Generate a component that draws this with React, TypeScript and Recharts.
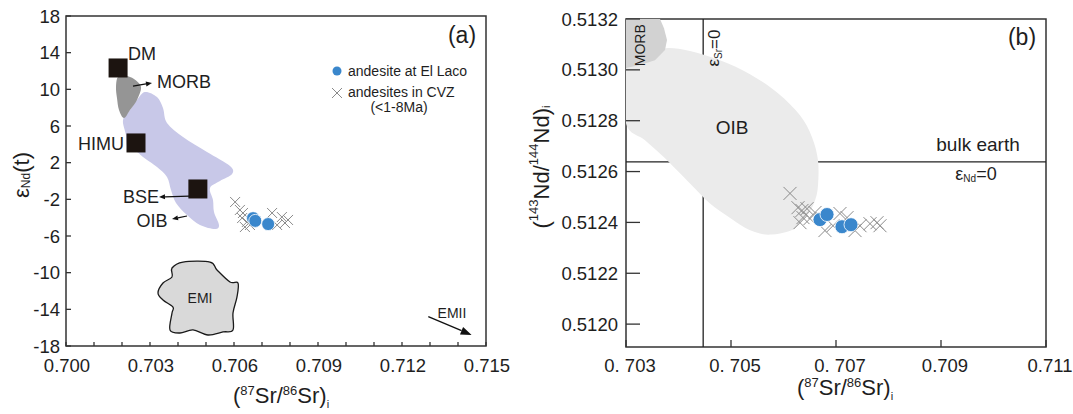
import React from 'react';
import { ScatterChart, Scatter, XAxis, YAxis, ReferenceArea, ReferenceLine } from 'recharts';

const FONT = '"Liberation Sans", Arial, Helvetica, sans-serif';
const INK = '#1e1e1e';
const FRAME = '#333333';
const BLUE = '#3a87cc';
const CROSS = '#8a8a8a';

// ---------------- panel (a): eNd(t) vs (87Sr/86Sr)i ----------------
const srTicksA = [0.700, 0.701, 0.702, 0.703, 0.704, 0.705, 0.706, 0.707, 0.708, 0.709, 0.710, 0.711, 0.712, 0.713, 0.714, 0.715];
const srTickLabelsA = ['0.700', '', '', '0.703', '', '', '0.706', '', '', '0.709', '', '', '0.712', '', '', '0.715'];
const endTicksA = [-18, -14, -10, -6, -2, 2, 6, 10, 14, 18];
const endTickLabelsA = ['-18', '-14', '-10', '-6', '-2', '2', '6', '10', '14', '18'];

const elLacoA = [
  { sr: 0.70668, end: -4.05 },
  { sr: 0.70676, end: -4.35 },
  { sr: 0.70722, end: -4.7 },
];
const cvzA = [
  { sr: 0.70604, end: -2.29 },
  { sr: 0.70621, end: -3.16 },
  { sr: 0.70632, end: -3.49 },
  { sr: 0.70629, end: -4.04 },
  { sr: 0.70646, end: -4.47 },
  { sr: 0.70657, end: -4.8 },
  { sr: 0.70639, end: -5.02 },
  { sr: 0.70736, end: -3.49 },
  { sr: 0.70754, end: -4.8 },
  { sr: 0.70771, end: -3.93 },
  { sr: 0.70782, end: -4.58 },
  { sr: 0.70793, end: -4.25 },
];
const endmembersA = [
  { sr: 0.70186, end: 12.33, name: 'DM' },
  { sr: 0.7025, end: 4.15, name: 'HIMU' },
  { sr: 0.70471, end: -0.87, name: 'BSE' },
];
const oibFieldA = [
  { sr: 0.702821, end: 9.71 }, { sr: 0.70325, end: 9.16 }, { sr: 0.703464, end: 7.96 },
  { sr: 0.703607, end: 6.33 }, { sr: 0.704179, end: 4.8 }, { sr: 0.705036, end: 3.16 },
  { sr: 0.705857, end: 1.64 }, { sr: 0.705929, end: 0.76 }, { sr: 0.7055, end: 0.0 },
  { sr: 0.705143, end: -0.76 }, { sr: 0.70525, end: -2.07 }, { sr: 0.705286, end: -3.38 },
  { sr: 0.705464, end: -4.8 }, { sr: 0.705321, end: -5.24 }, { sr: 0.704786, end: -4.8 },
  { sr: 0.704321, end: -3.71 }, { sr: 0.703929, end: -2.4 }, { sr: 0.70375, end: -0.98 },
  { sr: 0.703607, end: 0.44 }, { sr: 0.70325, end: 1.53 }, { sr: 0.70275, end: 2.62 },
  { sr: 0.702536, end: 3.16 }, { sr: 0.702214, end: 3.6 }, { sr: 0.702143, end: 5.02 },
  { sr: 0.702036, end: 6.65 }, { sr: 0.702286, end: 7.75 }, { sr: 0.702536, end: 8.84 },
];
const morbFieldA = [
  { sr: 0.701857, end: 11.35 }, { sr: 0.702143, end: 11.45 }, { sr: 0.702429, end: 11.13 },
  { sr: 0.702679, end: 10.25 }, { sr: 0.702536, end: 8.84 }, { sr: 0.702286, end: 7.75 },
  { sr: 0.702071, end: 6.87 }, { sr: 0.701893, end: 7.75 }, { sr: 0.701821, end: 9.05 },
  { sr: 0.701786, end: 10.25 },
];
const emiFieldA = [
  { sr: 0.703786, end: -9.49 }, { sr: 0.704179, end: -8.84 }, { sr: 0.705143, end: -8.84 },
  { sr: 0.705393, end: -9.71 }, { sr: 0.705857, end: -11.02 }, { sr: 0.706143, end: -11.13 },
  { sr: 0.706107, end: -12.65 }, { sr: 0.705964, end: -14.4 }, { sr: 0.705964, end: -16.25 },
  { sr: 0.705607, end: -16.47 }, { sr: 0.705071, end: -16.8 }, { sr: 0.704536, end: -16.25 },
  { sr: 0.704071, end: -16.58 }, { sr: 0.703714, end: -16.25 }, { sr: 0.703786, end: -14.4 },
  { sr: 0.703821, end: -13.75 }, { sr: 0.703464, end: -12.98 }, { sr: 0.703286, end: -12.22 },
  { sr: 0.703464, end: -11.13 }, { sr: 0.703786, end: -10.47 },
];
const labelsA = [
  { sr: 0.702714, end: 13.85, text: 'DM' },
  { sr: 0.704214, end: 10.8, text: 'MORB' },
  { sr: 0.70125, end: 4.04, text: 'HIMU' },
  { sr: 0.702679, end: -1.75, text: 'BSE' },
  { sr: 0.703071, end: -4.36, text: 'OIB' },
  { sr: 0.704786, end: -12.76, text: 'EMI' },
  { sr: 0.713786, end: -14.4, text: 'EMII' },
];
const arrowMorbA = [{ sr: 0.702393, end: 10.36 }, { sr: 0.703071, end: 10.69 }];
const arrowBseA = [{ sr: 0.704393, end: -1.64 }, { sr: 0.703321, end: -1.75 }];
const arrowOibA = [{ sr: 0.704321, end: -3.82 }, { sr: 0.703786, end: -4.15 }];
const arrowEmiiA = [{ sr: 0.71294, end: -14.8 }, { sr: 0.714488, end: -16.8 }];

// ---------------- panel (b): (143Nd/144Nd)i vs (87Sr/86Sr)i ----------------
const srTicksB = [0.703, 0.705, 0.707, 0.709, 0.711];
const srTickLabelsB = ['0. 703', '0. 705', '0. 707', '0.709', '0.711'];
const ndTicksB = [0.512, 0.5122, 0.5124, 0.5126, 0.5128, 0.513, 0.5132];
const ndTickLabelsB = ['0.5120', '0.5122', '0.5124', '0.5126', '0.5128', '0.5130', '0.5132'];
const SR_ZERO_B = 0.70447;
const ND_CHUR_B = 0.512638;

const elLacoB = [
  { sr: 0.706695, nd: 0.512411 },
  { sr: 0.706829, nd: 0.512431 },
  { sr: 0.707114, nd: 0.512383 },
  { sr: 0.707286, nd: 0.512391 },
];
const cvzB = [
  { sr: 0.706124, nd: 0.512514 }, { sr: 0.706276, nd: 0.512458 }, { sr: 0.706352, nd: 0.512447 },
  { sr: 0.706448, nd: 0.512454 }, { sr: 0.706371, nd: 0.512419 }, { sr: 0.706314, nd: 0.512399 },
  { sr: 0.706505, nd: 0.512415 }, { sr: 0.7066, nd: 0.512439 }, { sr: 0.70679, nd: 0.512368 },
  { sr: 0.706943, nd: 0.512387 }, { sr: 0.707076, nd: 0.512435 }, { sr: 0.70721, nd: 0.512419 },
  { sr: 0.707362, nd: 0.512368 }, { sr: 0.707457, nd: 0.512387 }, { sr: 0.707648, nd: 0.512395 },
  { sr: 0.707781, nd: 0.512399 }, { sr: 0.707838, nd: 0.512387 },
];
const oibFieldB = [
  { sr: 0.703, nd: 0.513007 }, { sr: 0.703267, nd: 0.51303 }, { sr: 0.703552, nd: 0.51307 },
  { sr: 0.7038, nd: 0.513086 }, { sr: 0.704219, nd: 0.513074 }, { sr: 0.70479, nd: 0.513038 },
  { sr: 0.705362, nd: 0.512983 }, { sr: 0.705895, nd: 0.512908 }, { sr: 0.706314, nd: 0.512821 },
  { sr: 0.706543, nd: 0.512735 }, { sr: 0.706657, nd: 0.512644 }, { sr: 0.706657, nd: 0.512545 },
  { sr: 0.7066, nd: 0.512486 }, { sr: 0.706467, nd: 0.512431 }, { sr: 0.706276, nd: 0.512387 },
  { sr: 0.706086, nd: 0.512364 }, { sr: 0.705781, nd: 0.512352 }, { sr: 0.705552, nd: 0.512356 },
  { sr: 0.705267, nd: 0.512379 }, { sr: 0.704943, nd: 0.512423 }, { sr: 0.7046, nd: 0.512474 },
  { sr: 0.704219, nd: 0.512553 }, { sr: 0.703743, nd: 0.512652 }, { sr: 0.703362, nd: 0.512723 },
  { sr: 0.703, nd: 0.51279 },
];
const morbFieldB = [
  { sr: 0.703, nd: 0.5132 }, { sr: 0.703648, nd: 0.5132 }, { sr: 0.703724, nd: 0.513164 },
  { sr: 0.703781, nd: 0.513117 }, { sr: 0.703743, nd: 0.513078 }, { sr: 0.703552, nd: 0.513038 },
  { sr: 0.703267, nd: 0.513019 }, { sr: 0.703, nd: 0.513007 },
];
const labelsB = [
  { sr: 0.703267, nd: 0.513097, text: 'MORB' },
  { sr: 0.704676, nd: 0.513086, text: 'eSr' },
  { sr: 0.705019, nd: 0.512774, text: 'OIB' },
  { sr: 0.709705, nd: 0.512707, text: 'bulk earth' },
  { sr: 0.709667, nd: 0.512592, text: 'eNd' },
];

// ---------------- drawing helpers ----------------
const nothing = () => <g />;

const closedSmooth = (pts: any[]) => {
  const n = pts.length;
  let d = `M${pts[0].x},${pts[0].y}`;
  for (let i = 0; i < n; i++) {
    const p0 = pts[(i - 1 + n) % n], p1 = pts[i], p2 = pts[(i + 1) % n], p3 = pts[(i + 2) % n];
    const c1x = p1.x + (p2.x - p0.x) / 6, c1y = p1.y + (p2.y - p0.y) / 6;
    const c2x = p2.x - (p3.x - p1.x) / 6, c2y = p2.y - (p3.y - p1.y) / 6;
    d += ` C${c1x},${c1y} ${c2x},${c2y} ${p2.x},${p2.y}`;
  }
  return d + ' Z';
};

const smoothShape = (fill: string, stroke: string, sw: number) => (props: any) => (
  <path d={closedSmooth(props.points)} fill={fill} stroke={stroke} strokeWidth={sw} />
);
const polyShape = (fill: string) => (props: any) => (
  <polygon points={props.points.map((p: any) => `${p.x},${p.y}`).join(' ')} fill={fill} stroke="none" />
);

const arrowShape = (headLen: number, headW: number, sw: number) => (props: any) => {
  const [a, b] = props.points;
  const dx = b.x - a.x, dy = b.y - a.y;
  const L = Math.hypot(dx, dy) || 1;
  const ux = dx / L, uy = dy / L;
  const bx = b.x - ux * headLen, by = b.y - uy * headLen;
  const px = (-uy * headW) / 2, py = (ux * headW) / 2;
  return (
    <g>
      <line x1={a.x} y1={a.y} x2={bx} y2={by} stroke="#111" strokeWidth={sw} />
      <polygon points={`${b.x},${b.y} ${bx + px},${by + py} ${bx - px},${by - py}`} fill="#111" />
    </g>
  );
};

const crossShape = (arm: number) => (p: any) => (
  <g stroke={CROSS} strokeWidth={1}>
    <line x1={p.cx - arm} y1={p.cy - arm} x2={p.cx + arm} y2={p.cy + arm} />
    <line x1={p.cx - arm} y1={p.cy + arm} x2={p.cx + arm} y2={p.cy - arm} />
  </g>
);
const dotShape = (r: number) => (p: any) => (
  <circle cx={p.cx} cy={p.cy} r={r} fill={BLUE} stroke="#ffffff" strokeWidth={0.8} />
);
const squareShape = (p: any) => <rect x={p.cx - 9.5} y={p.cy - 9.5} width={19} height={19} fill="#1c1410" />;

const labelA = (p: any) => {
  const t = p.payload.text;
  const fs = t === 'EMI' || t === 'EMII' ? 14 : 18;
  return (
    <text x={p.cx} y={p.cy} textAnchor="middle" dominantBaseline="central" fontSize={fs} fontFamily={FONT} fill={INK}>
      {t}
    </text>
  );
};

const labelB = (p: any) => {
  const t = p.payload.text;
  const { cx, cy } = p;
  if (t === 'MORB') {
    return (
      <text x={cx} y={cy} transform={`rotate(-90 ${cx} ${cy})`} textAnchor="middle" dominantBaseline="central" fontSize={14} fontFamily={FONT} fill={INK}>
        MORB
      </text>
    );
  }
  if (t === 'eSr') {
    return (
      <text x={cx} y={cy} transform={`rotate(-90 ${cx} ${cy})`} textAnchor="middle" dominantBaseline="central" fontSize={17} fontFamily={FONT} fill={INK}>
        ε<tspan fontSize={10} dy={4}>Sr</tspan><tspan dy={-4}>=0</tspan>
      </text>
    );
  }
  if (t === 'eNd') {
    return (
      <text x={cx} y={cy} textAnchor="middle" dominantBaseline="central" fontSize={18} fontFamily={FONT} fill={INK}>
        ε<tspan fontSize={10} dy={4}>Nd</tspan><tspan dy={-4}>=0</tspan>
      </text>
    );
  }
  return (
    <text x={cx} y={cy} textAnchor="middle" dominantBaseline="central" fontSize={19} fontFamily={FONT} fill={INK}>
      {t}
    </text>
  );
};

const findLabel = (ticks: number[], labels: string[], v: number) => {
  const i = ticks.findIndex((t) => Math.abs(t - v) < 1e-9);
  return i >= 0 ? labels[i] : '';
};

const makeYTick = (ticks: number[], labels: string[], len: number, gap: number, fs: number) => (props: any) => {
  const { x, y, payload } = props;
  return (
    <g>
      <line x1={x} x2={x + len} y1={y} y2={y} stroke={FRAME} strokeWidth={1.3} />
      <text x={x - gap} y={y} textAnchor="end" dominantBaseline="central" fontSize={fs} fontFamily={FONT} fill={INK}>
        {findLabel(ticks, labels, payload.value)}
      </text>
    </g>
  );
};
const makeXTick = (ticks: number[], labels: string[], len: number, gap: number, fs: number, dx: number) => (props: any) => {
  const { x, y, payload } = props;
  return (
    <g>
      <line x1={x} x2={x} y1={y} y2={y - len} stroke={FRAME} strokeWidth={1.3} />
      <text x={x + dx} y={y + gap} textAnchor="middle" dominantBaseline="central" fontSize={fs} fontFamily={FONT} fill={INK}>
        {findLabel(ticks, labels, payload.value)}
      </text>
    </g>
  );
};

const xTickA = makeXTick(srTicksA, srTickLabelsA, 4, 19, 18.5, 1);
const yTickA = makeYTick(endTicksA, endTickLabelsA, 5, 6, 18.5);
const xTickB = makeXTick(srTicksB, srTickLabelsB, 7, 18, 18.5, 4);
const yTickB = makeYTick(ndTicksB, ndTickLabelsB, 14, 8, 18.5);

const PanelA = () => (
  <ScatterChart width={530} height={414} margin={{ top: 16, right: 44, bottom: 0, left: 0 }}>
    <XAxis type="number" dataKey="sr" domain={[0.7, 0.715]} ticks={srTicksA} interval={0} allowDataOverflow
      axisLine={false} tickLine={false} tickSize={0} tickMargin={0} height={68} tick={xTickA} />
    <YAxis type="number" dataKey="end" domain={[-18, 18]} ticks={endTicksA} interval={0} allowDataOverflow
      axisLine={false} tickLine={false} tickSize={0} tickMargin={0} width={66} tick={yTickA} />
    <Scatter data={oibFieldA} line={smoothShape('#c8c8e8', 'none', 0)} shape={nothing} isAnimationActive={false} />
    <Scatter data={morbFieldA} line={smoothShape('#959595', 'none', 0)} shape={nothing} isAnimationActive={false} />
    <Scatter data={emiFieldA} line={smoothShape('#d9d9d9', '#1a1a1a', 1.3)} shape={nothing} isAnimationActive={false} />
    <Scatter data={endmembersA} shape={squareShape} isAnimationActive={false} />
    <Scatter data={arrowMorbA} line={arrowShape(6, 5, 1.2)} shape={nothing} isAnimationActive={false} />
    <Scatter data={arrowBseA} line={arrowShape(6, 5, 1.2)} shape={nothing} isAnimationActive={false} />
    <Scatter data={arrowOibA} line={arrowShape(6, 5, 1.2)} shape={nothing} isAnimationActive={false} />
    <Scatter data={arrowEmiiA} line={arrowShape(11, 8, 1.4)} shape={nothing} isAnimationActive={false} />
    <Scatter data={cvzA} shape={crossShape(5)} isAnimationActive={false} />
    <Scatter data={elLacoA} shape={dotShape(6.5)} isAnimationActive={false} />
    <Scatter data={labelsA} shape={labelA} isAnimationActive={false} />
    <ReferenceArea x1={0.7} x2={0.715} y1={-18} y2={18} fill="none" fillOpacity={0} stroke={FRAME} strokeWidth={1.5} ifOverflow="visible" />
  </ScatterChart>
);

const PanelB = () => (
  <ScatterChart width={543} height={414} margin={{ top: 19, right: 27, bottom: 0, left: 0 }}>
    <XAxis type="number" dataKey="sr" domain={[0.703, 0.711]} ticks={srTicksB} interval={0} allowDataOverflow
      axisLine={false} tickLine={false} tickSize={0} tickMargin={0} height={67} tick={xTickB} />
    <YAxis type="number" dataKey="nd" domain={[0.51191, 0.5132]} ticks={ndTicksB} interval={0} allowDataOverflow
      axisLine={false} tickLine={false} tickSize={0} tickMargin={0} width={96} tick={yTickB} />
    <Scatter data={oibFieldB} line={smoothShape('#ebebeb', 'none', 0)} shape={nothing} isAnimationActive={false} />
    <Scatter data={morbFieldB} line={polyShape('#d2d2d2')} shape={nothing} isAnimationActive={false} />
    <ReferenceLine x={SR_ZERO_B} stroke="#222" strokeWidth={1.3} ifOverflow="visible" />
    <ReferenceLine y={ND_CHUR_B} stroke="#222" strokeWidth={1.3} ifOverflow="visible" />
    <Scatter data={cvzB} shape={crossShape(6.5)} isAnimationActive={false} />
    <Scatter data={elLacoB} shape={dotShape(7)} isAnimationActive={false} />
    <Scatter data={labelsB} shape={labelB} isAnimationActive={false} />
    <ReferenceArea x1={0.703} x2={0.711} y1={0.51191} y2={0.5132} fill="none" fillOpacity={0} stroke={FRAME} strokeWidth={1.5} ifOverflow="visible" />
  </ScatterChart>
);

const SrTitle = ({ x, y }: { x: number; y: number }) => (
  <text x={x} y={y} textAnchor="middle" fontSize={22} fontFamily={FONT} fill={INK}>
    (<tspan fontSize={13} dy={-8}>87</tspan><tspan dy={8}>Sr/</tspan><tspan fontSize={13} dy={-8}>86</tspan><tspan dy={8}>Sr)</tspan><tspan fontSize={11} dy={5}>i</tspan>
  </text>
);

export default function App() {
  return (
    <div style={{ position: 'absolute', left: 0, top: 0, width: 1073, height: 414, background: '#ffffff', overflow: 'hidden' }}>
      <div style={{ position: 'absolute', left: 0, top: 0 }}>
        <PanelA />
      </div>
      <div style={{ position: 'absolute', left: 530, top: 0 }}>
        <PanelB />
      </div>
      <svg width={1073} height={414} style={{ position: 'absolute', left: 0, top: 0, pointerEvents: 'none' }}>
        {/* panel letters */}
        <text x={462} y={35} textAnchor="middle" dominantBaseline="central" fontSize={23} fontFamily={FONT} fill={INK}>(a)</text>
        <text x={1022} y={37} textAnchor="middle" dominantBaseline="central" fontSize={23} fontFamily={FONT} fill={INK}>(b)</text>
        {/* legend (a) */}
        <circle cx={337} cy={71} r={4.5} fill={BLUE} />
        <text x={348} y={75.5} fontSize={14} fontFamily={FONT} fill={INK}>andesite at El Laco</text>
        <g stroke={CROSS} strokeWidth={1}>
          <line x1={332} y1={88} x2={342} y2={98} />
          <line x1={332} y1={98} x2={342} y2={88} />
        </g>
        <text x={348} y={97} fontSize={14} fontFamily={FONT} fill={INK}>andesites in CVZ</text>
        <text x={399} y={112} textAnchor="middle" fontSize={14} fontFamily={FONT} fill={INK}>(&lt;1-8Ma)</text>
        {/* axis titles */}
        <SrTitle x={281} y={403} />
        <SrTitle x={845} y={395} />
        <text x={21} y={175} transform="rotate(-90 21 175)" textAnchor="middle" dominantBaseline="central" fontSize={22} fontFamily={FONT} fill={INK}>
          ε<tspan fontSize={12} dy={5}>Nd</tspan><tspan dy={-5}>(t)</tspan>
        </text>
        <text x={541} y={167} transform="rotate(-90 541 167)" textAnchor="middle" dominantBaseline="central" fontSize={22} fontFamily={FONT} fill={INK}>
          (<tspan fontSize={13} dy={-8}>143</tspan><tspan dy={8}>Nd/</tspan><tspan fontSize={13} dy={-8}>144</tspan><tspan dy={8}>Nd)</tspan><tspan fontSize={11} dy={5}>i</tspan>
        </text>
      </svg>
    </div>
  );
}
